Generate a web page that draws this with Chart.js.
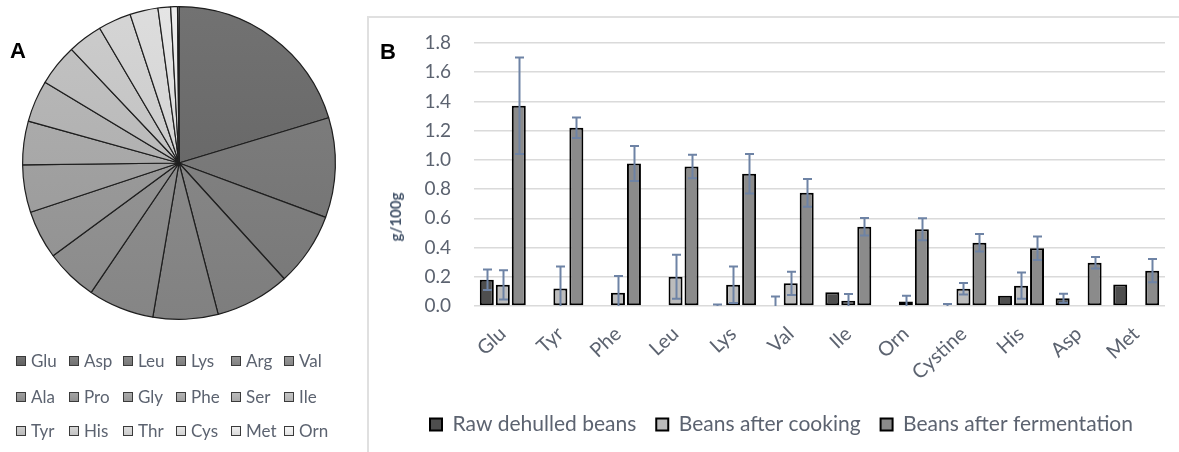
<!DOCTYPE html>
<html><head><meta charset="utf-8">
<script src="https://cdn.jsdelivr.net/npm/chart.js@4.4.1/dist/chart.umd.min.js"></script>
<style>
html,body{margin:0;padding:0;background:#fff;width:1179px;height:452px;overflow:hidden;font-family:Lato,sans-serif}
.abs{position:absolute}
#frameB{left:367px;top:16px;width:830px;height:460px;border-top:2px solid #e0e0e0;border-left:2px solid #e0e0e0}
.panel{font-family:"Liberation Sans",Arial,sans-serif;font-weight:bold;font-size:22px;line-height:22px;color:#000}
#ytitle{left:395px;top:217px;transform:translate(-50%,-50%) rotate(-90deg);font:bold 15px Lato,sans-serif;color:#44546a;white-space:nowrap}
</style></head>
<body>
<div id="frameB" class="abs"></div>
<div class="abs" style="left:0;top:0;width:368px;height:452px"><canvas id="pie" width="368" height="452"></canvas></div>
<div class="abs" style="left:368px;top:17px;width:811px;height:435px"><canvas id="bar" width="811" height="435"></canvas></div>
<div class="abs panel" style="left:10px;top:40px">A</div>
<div class="abs panel" style="left:380px;top:41px">B</div>
<div id="ytitle" class="abs">g/100g</div>
<script>
// ---------- Panel A data ----------
const pieLabels = ['Glu','Asp','Leu','Lys','Arg','Val','Ala','Pro','Gly','Phe','Ser','Ile','Tyr','His','Thr','Cys','Met','Orn'];
const pieValues = [20.3,10.3,7.6,7.7,6.7,6.8,5.4,5.0,4.9,4.5,4.3,4.3,3.6,3.4,2.9,1.3,0.7,0.15];
const pieColors = ['#6a6a6a','#7a7a7a','#818181','#878787','#8b8b8b','#8f8f8f','#949494','#9a9a9a','#a1a1a1','#a9a9a9','#b2b2b2','#bbbbbb','#c4c4c4','#cdcdcd','#d5d5d5','#dddddd','#e5e5e5','#ededed'];

// ---------- Panel B data ----------
const categories = ['Glu','Tyr','Phe','Leu','Lys','Val','Ile','Orn','Cystine','His','Asp','Met'];
const rawValues  = [0.18,0,0,0,0,0.005,0.094,0,0,0.07,0.053,0.148];
const rawErrors  = [0.07,0,0,0,0.01,0.06,0,0,0.014,0,0.03,0];
const cookValues = [0.145,0.12,0.09,0.20,0.145,0.155,0.036,0.03,0.118,0.139,0,0];
const cookErrors = [0.10,0.15,0.115,0.15,0.125,0.08,0.046,0.04,0.04,0.09,0,0];
const fermValues = [1.37,1.22,0.975,0.955,0.905,0.775,0.543,0.525,0.433,0.395,0.296,0.242];
const fermErrors = [0.33,0.07,0.12,0.08,0.135,0.095,0.06,0.075,0.06,0.08,0.04,0.08];
const seriesNames = ['Raw dehulled beans','Beans after cooking','Beans after fermentation'];
const yMin = 0, yMax = 1.8, yStep = 0.2;

const textColor = '#5c6370';

function shade(hex, d){
  const n = parseInt(hex.slice(1),16);
  const c = v => Math.max(0,Math.min(255,v+d));
  const r=c(n>>16), g=c((n>>8)&255), b=c(n&255);
  return 'rgb('+r+','+g+','+b+')';
}

// ---------- Pie ----------
const pieLegendPlugin = {
  id:'pieGridLegend',
  afterDraw(chart){
    const ctx = chart.ctx;
    const colX = [16,69,123,176,231,284];
    const rowY = [361,397,431];
    ctx.save();
    ctx.font = '17px Lato, sans-serif';
    ctx.textBaseline = 'middle';
    ctx.textAlign = 'left';
    chart.data.labels.forEach((lab,i)=>{
      const x = colX[i%6], y = rowY[Math.floor(i/6)];
      const g = ctx.createLinearGradient(0,y-5,0,y+5);
      g.addColorStop(0, shade(pieColors[i],12));
      g.addColorStop(1, shade(pieColors[i],-12));
      ctx.fillStyle = g;
      ctx.fillRect(x,y-5,10,10);
      ctx.strokeStyle = '#3a3a3a';
      ctx.lineWidth = 1;
      ctx.strokeRect(x+0.5,y-4.5,9,9);
      ctx.fillStyle = textColor;
      ctx.fillText(lab, x+15, y+0.5);
    });
    ctx.restore();
  }
};

new Chart(document.getElementById('pie'), {
  type:'pie',
  data:{
    labels: pieLabels,
    datasets:[{
      data: pieValues,
      backgroundColor: (c)=>{
        const base = pieColors[c.dataIndex];
        const a = c.chart.chartArea;
        if(!a) return base;
        const g = c.chart.ctx.createLinearGradient(0,a.top,0,a.bottom);
        g.addColorStop(0, shade(base,8));
        g.addColorStop(1, shade(base,-10));
        return g;
      },
      borderColor:'#1e1e1e',
      borderWidth:1.2,
      borderAlign:'center'
    }]
  },
  options:{
    responsive:false, animation:false, devicePixelRatio:1,
    layout:{padding:{left:22,top:6,right:32,bottom:132}},
    plugins:{legend:{display:false}, tooltip:{enabled:false}}
  },
  plugins:[pieLegendPlugin]
});

// ---------- Bars ----------
const errorBarPlugin = {
  id:'errorBars',
  afterDatasetsDraw(chart){
    const ctx = chart.ctx, ys = chart.scales.y, a = chart.chartArea;
    ctx.save();
    ctx.beginPath();
    ctx.rect(a.left, a.top-30, a.right-a.left, a.bottom-a.top+30);
    ctx.clip();
    ctx.strokeStyle = '#6e83a5';
    ctx.lineWidth = 2;
    chart.data.datasets.forEach((ds,i)=>{
      const meta = chart.getDatasetMeta(i);
      meta.data.forEach((bar,j)=>{
        const e = ds.errors[j];
        if(!e) return;
        const v = ds.data[j];
        const yt = ys.getPixelForValue(v+e), yb = ys.getPixelForValue(v-e);
        const x = Math.round(bar.x)+0.5;
        ctx.beginPath();
        ctx.moveTo(x,yt); ctx.lineTo(x,yb);
        ctx.moveTo(x-4.5,yt); ctx.lineTo(x+4.5,yt);
        ctx.moveTo(x-4.5,yb); ctx.lineTo(x+4.5,yb);
        ctx.stroke();
      });
    });
    ctx.restore();
  }
};

const barCommon = {borderColor:'#000', borderWidth:2, borderSkipped:false, categoryPercentage:0.833, barPercentage:0.875};

new Chart(document.getElementById('bar'), {
  type:'bar',
  data:{
    labels: categories,
    datasets:[
      Object.assign({label:seriesNames[0], data:rawValues, errors:rawErrors, backgroundColor:'#4e4e4e'}, barCommon),
      Object.assign({label:seriesNames[1], data:cookValues, errors:cookErrors, backgroundColor:'#bcbcbc'}, barCommon),
      Object.assign({label:seriesNames[2], data:fermValues, errors:fermErrors, backgroundColor:'#8b8b8b'}, barCommon)
    ]
  },
  options:{
    responsive:false, animation:false, devicePixelRatio:1,
    layout:{padding:{left:30,right:14,top:26,bottom:7}},
    scales:{
      x:{
        grid:{display:false}, border:{display:false},
        ticks:{autoSkip:false, minRotation:43, maxRotation:43, padding:8, color:textColor, font:{family:'Lato', size:20}},
        afterFit:(s)=>{ s.height = 88; }
      },
      y:{
        min:yMin, max:yMax,
        grid:{color:'#dadada', lineWidth:1.5, drawTicks:true, tickLength:20, tickColor:'rgba(0,0,0,0)'},
        border:{display:false},
        ticks:{stepSize:yStep, padding:3, color:textColor, font:{family:'Lato', size:19}, callback:(v)=>Number(v).toFixed(1)},
        afterFit:(s)=>{ s.width = 76; }
      }
    },
    plugins:{
      tooltip:{enabled:false},
      legend:{
        position:'bottom',
        labels:{boxWidth:12, boxHeight:12, padding:20, color:textColor, font:{family:'Lato', size:21}}
      }
    }
  },
  plugins:[errorBarPlugin]
});
</script>
</body></html>
